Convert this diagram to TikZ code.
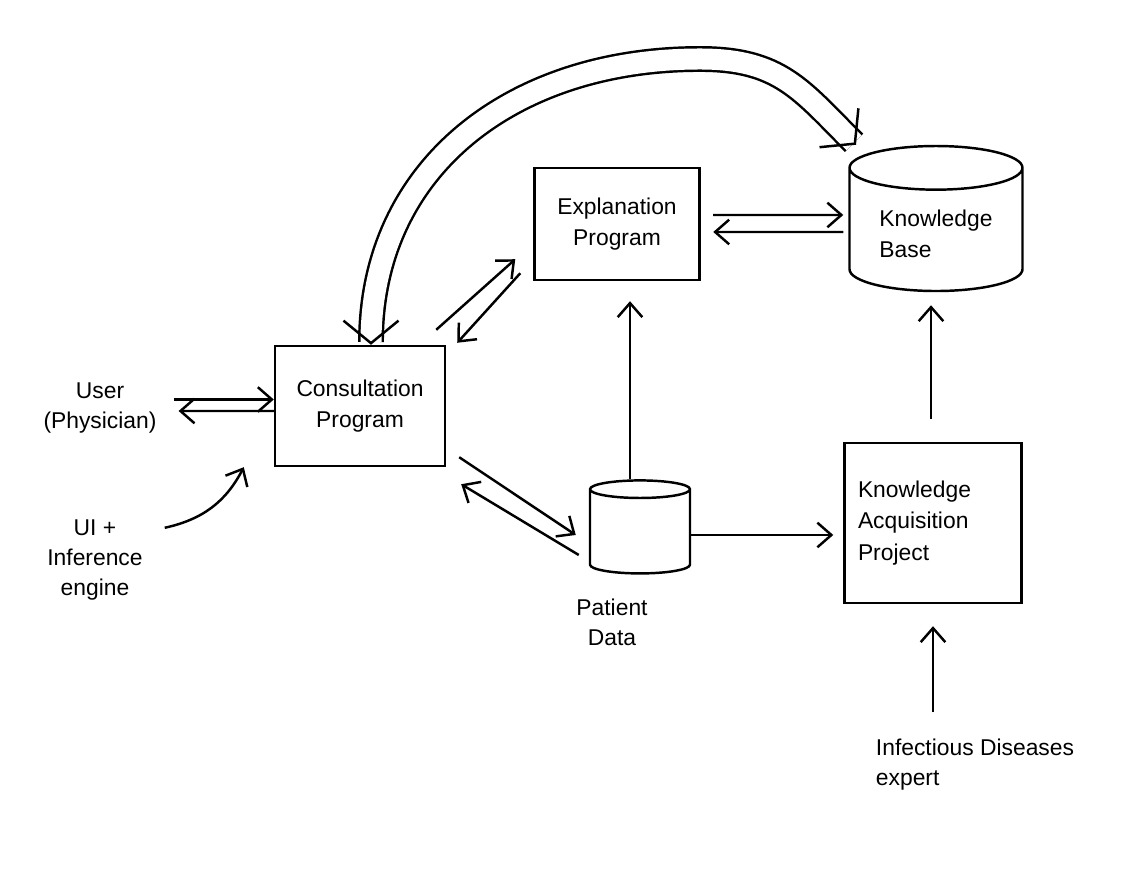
\documentclass[tikz,border=0pt]{standalone}
\usepackage{fontspec}
\setmainfont{Liberation Sans}
\usepackage{tikz}
\usetikzlibrary{shapes.geometric, arrows.meta, positioning}

\begin{document}
\begin{tikzpicture} [line width=1.4pt, >={Straight Barb[length=8pt, width=14pt]},
        block/.style = {draw, minimum width=3.4cm, minimum height=2.4cm, align=center,
          font=\fontsize{13}{18}\selectfont},
        store/.style = {draw, cylinder, shape border rotate=90, shape aspect=0.35,
          align=left, font=\fontsize{13}{18}\selectfont},
        txt/.style = {align=center, font=\fontsize{13}{17}\selectfont}]
        \useasboundingbox (0,0) rectangle (22.6,17.38);
        \node (CONSULT)[block] at (7.2,9.26) {Consultation\\Program};
        \node (EXPLAIN)[block, minimum width=3.3cm, minimum height=2.24cm] at (12.34,12.9)
        {Explanation\\Program};
        \node (KB)[store, minimum width=3.46cm, minimum height=2.9cm] at (18.72,12.7)
        {Knowledge\\Base};
        \node (KAP)[block, minimum width=3.54cm, minimum height=3.2cm, text width=3cm, align=left]
        at (18.66,6.92) {Knowledge\\Acquisition\\Project};
        \node (PATIENT)[store, shape aspect=1.5, minimum width=2cm, minimum height=1.86cm]
        at (12.8,6.7) {};
        \node (PDATA)[txt] at (12.24,4.94) {Patient\\Data};
        \node (USER)[txt] at (2.0,9.22) {User\\(Physician)};
        \node (UI)[txt] at (1.9,6.18) {UI +\\Inference\\engine};
        \node (EXPERT)[txt, align=left] at (19.5,2.08) {Infectious Diseases\\expert};
        \coordinate (ARCTOP) at (14,16.2);
        % wide two-way band over the top
        \draw [{Straight Barb[length=0.45cm, width=1.1cm]}-{Straight Barb[length=0.45cm, width=1.1cm]},
        double, double distance=0.42cm]
        ([xshift=0.22cm]CONSULT.north) .. controls +(0,3.5) and +(-3.8,0) .. (ARCTOP)
        .. controls +(1.6,0) and +(-1.1,1.1) .. ([xshift=-1.6cm]KB.north);
        \path [->]
        ([shift={(0.2,0.17)}]USER.east) edge ([yshift=0.13cm]CONSULT.west)
        ([yshift=-0.1cm]CONSULT.west) edge ([shift={(0.3,-0.06)}]USER.east)
        ([shift={(0.3,-0.3)}]UI.north east) edge [bend right=25] ([xshift=-0.6cm]CONSULT.south west)
        ([shift={(-0.2,0.3)}]CONSULT.north east) edge ([shift={(-0.36,0.44)}]EXPLAIN.south west)
        ([shift={(-0.26,0.16)}]EXPLAIN.south west) edge ([shift={(0.22,0.04)}]CONSULT.north east)
        ([shift={(0.26,0.2)}]CONSULT.south east) edge ([shift={(-0.26,-0.02)}]PATIENT.west)
        ([shift={(-0.2,-0.42)}]PATIENT.west) edge ([shift={(0.3,-0.34)}]CONSULT.south east)
        ([xshift=-0.2cm]PATIENT.north) edge [shorten >=0.4cm]
        ([xshift=-0.2cm]PATIENT.north |- EXPLAIN.south)
        ([yshift=-0.02cm]PATIENT.east) edge [shorten >=0.2cm]
        ([yshift=-0.02cm]PATIENT.east -| KAP.west)
        ([xshift=-0.04cm]KAP.north) edge [shorten <=0.46cm, shorten >=0.26cm]
        ([xshift=-0.04cm]KAP.north |- KB.south)
        ([yshift=0.4cm]EXPERT.north -| KAP.south) edge [shorten >=0.44cm] (KAP.south)
        ([shift={(0.25,0.18)}]EXPLAIN.east) edge ([shift={(-0.1,0.38)}]KB.west)
        ([shift={(-0.1,0.04)}]KB.west) edge ([shift={(0.25,-0.16)}]EXPLAIN.east);
\end{tikzpicture}
\end{document}
